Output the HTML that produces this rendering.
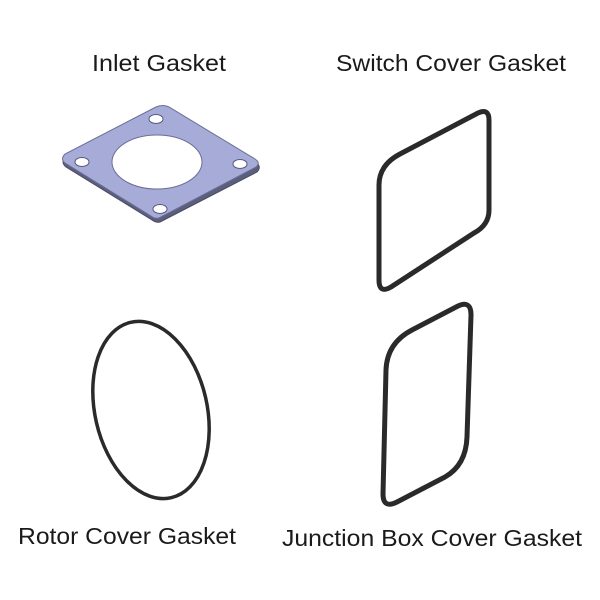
<!DOCTYPE html>
<html><head><style>
body{margin:0;background:#fff;}
svg{display:block}
text{font-family:"Liberation Sans",sans-serif;font-size:23px;fill:#1a1a1a;}
</style></head><body>
<svg width="600" height="600" viewBox="0 0 600 600">
<text x="92" y="71" textLength="134" lengthAdjust="spacingAndGlyphs">Inlet Gasket</text>
<text x="336" y="71" textLength="230" lengthAdjust="spacingAndGlyphs">Switch Cover Gasket</text>
<text x="18" y="544" textLength="218" lengthAdjust="spacingAndGlyphs">Rotor Cover Gasket</text>
<text x="282" y="546" textLength="300" lengthAdjust="spacingAndGlyphs">Junction Box Cover Gasket</text>

<!-- inlet gasket -->
<path d="M160,222 L257,172 Q262,167 256,162 L170,110 Q163,106 156,110 L66,157 Q60,162 66,167 L152,220 Q156,223 160,222 Z" fill="#5c5f7c" stroke="#4a4c66" stroke-width="1"/>
<path d="M159,218 L256,167 Q261,163 255,159 L169,107 Q163,104 156,107 L65,154 Q60,159 65,163 L151,216 Q155,219 159,218 Z" fill="#a6abd8" stroke="#6a6e96" stroke-width="1"/>
<ellipse cx="157" cy="162" rx="45" ry="27" fill="#fff" stroke="#6a6e96"/>
<ellipse cx="156" cy="119" rx="7" ry="4.5" fill="#fff" stroke="#55587a"/>
<ellipse cx="82" cy="162" rx="7" ry="4.5" fill="#fff" stroke="#55587a"/>
<ellipse cx="240" cy="164" rx="7" ry="4.5" fill="#fff" stroke="#55587a"/>
<ellipse cx="160" cy="209" rx="7" ry="4.5" fill="#fff" stroke="#55587a"/>

<!-- switch cover -->
<path d="M400,154 L478,113 Q489,108 489,120 L489,210 Q489,225 474,233 L391,287 Q379,294 379,280 L379,185 Q379,165 400,154 Z" fill="none" stroke="#2a2a2a" stroke-width="5" stroke-linejoin="round"/>

<!-- junction box -->
<path d="M412,330 L458,306 Q471,300 471,315 L467,437 Q466,465 445,477 L397,502 Q383,509 383,494 L386,370 Q387,343 412,330 Z" fill="none" stroke="#2a2a2a" stroke-width="5" stroke-linejoin="round"/>

<!-- rotor cover -->
<ellipse cx="151" cy="410" rx="56" ry="90" transform="rotate(-13 151 410)" fill="none" stroke="#2a2a2a" stroke-width="3.5"/>
</svg>
</body></html>
